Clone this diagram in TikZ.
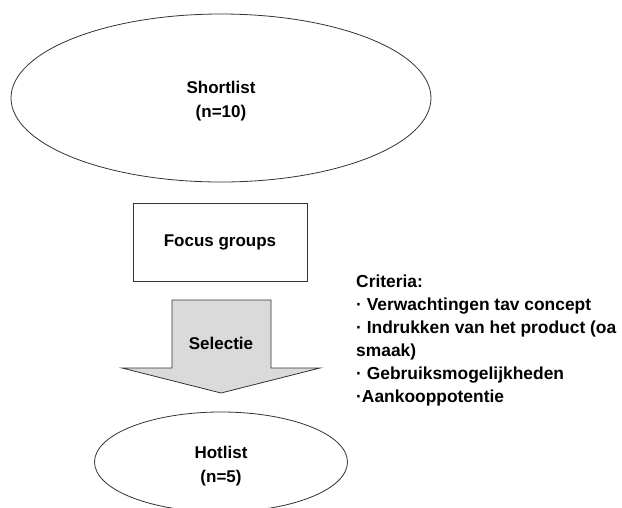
\documentclass[tikz,border=0pt]{standalone}
\usepackage{fontspec}
\setmainfont{Liberation Sans}
\usetikzlibrary{shapes.geometric}
\definecolor{arrowfill}{HTML}{DADADA}
\definecolor{edge}{HTML}{333333}
\tikzset{
  txt/.style={font=\bfseries\fontsize{17}{24}\selectfont, text=black},
  oval/.style={ellipse, draw=edge, line width=0.8pt, inner sep=0pt},
  boxnode/.style={rectangle, draw=edge, line width=0.8pt, inner sep=0pt, align=center, txt},
}
\begin{document}
\begin{tikzpicture}[x=1pt,y=-1pt]
\useasboundingbox (0,0) rectangle (622,507);
\fill[white] (0,0) rectangle (622,507);
\node[oval, minimum width=420pt, minimum height=168pt] (short) at (221,98) {};
\node[txt, align=center] (shorttxt) at (221,101) {Shortlist\\(n=10)};
\node[boxnode, minimum width=174pt, minimum height=78pt] (focus) at (220,242) {Focus groups};
\draw[draw=edge, fill=arrowfill, line width=0.8pt]
  (172,300) -- (271,300) -- (271,368) -- (320,368) -- (221,393) -- (122,368) -- (172,368) -- cycle;
\node[txt] (sel) at (221,343) {Selectie};
\node[oval, minimum width=253pt, minimum height=100pt] (hot) at (221,462) {};
\node[txt, align=center] (hottxt) at (221,466) {Hotlist\\(n=5)};
\node[txt, font=\bfseries\fontsize{17.4}{23}\selectfont, anchor=north west, inner sep=0pt, align=left] (crit) at (356,275)
  {Criteria:\\
   · Verwachtingen tav concept\\
   · Indrukken van het product (oa\\
   smaak)\\
   · Gebruiksmogelijkheden\\
   ·Aankooppotentie};
\end{tikzpicture}
\end{document}
